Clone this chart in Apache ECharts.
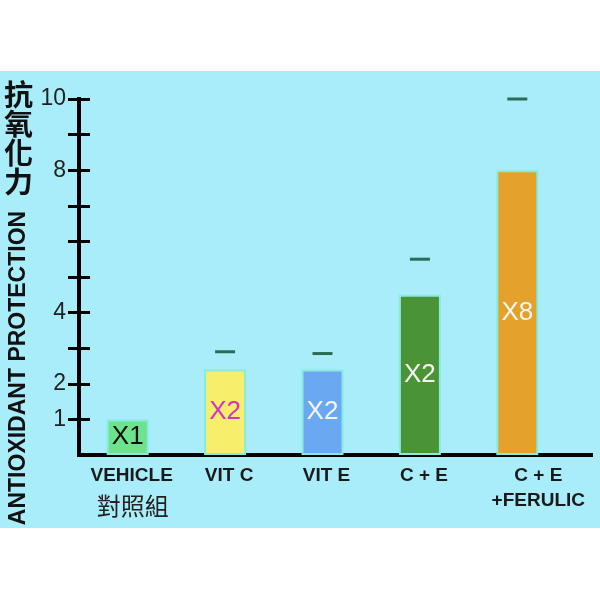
<!DOCTYPE html>
<html>
<head>
<meta charset="utf-8">
<script src="https://cdn.jsdelivr.net/npm/echarts@6/dist/echarts.min.js"></script>
<style>
  html, body { margin: 0; padding: 0; background: #fff; }
  #chart { width: 600px; height: 600px; }
</style>
</head>
<body>
<div id="chart"></div>
<script>
// data
const categories = ['VEHICLE', 'VIT C', 'VIT E', 'C + E', 'C + E\n+FERULIC']
const subLabels = ['對照組', '', '', '', '']
const protection = [1, 2.4, 2.4, 4.5, 8]
const dashValues = ['-', 2.9, 2.85, 5.5, 10]
const multipliers = ['X1', 'X2', 'X2', 'X2', 'X8']
const barColors = ['#6ee38e', '#f7ee6b', '#6aa9f1', '#4a9336', '#e4a22d']
const multiplierColors = ['#111111', '#d333c6', '#f4f6ee', '#f4f6ee', '#f4f6ee']
const yTicks = [1, 2, 3, 4, 5, 6, 7, 8, 9, 10]
const yLabels = [1, 2, 4, 8, 10]

const sans = '"Liberation Sans Narrow", "Liberation Sans", Arial, sans-serif'
const cjk = '"Noto Sans CJK TC", "Noto Sans CJK SC", sans-serif'

const chart = echarts.init(document.getElementById('chart'))

const barData = protection.map((v, i) => ({
  value: v,
  itemStyle: { color: barColors[i] },
  label: { color: multiplierColors[i] }
}))

chart.setOption({
  animation: false,
  backgroundColor: '#aaedfa',
  grid: {
    left: 79,
    right: 34,
    top: 99,
    bottom: 145
  },
  graphic: [
    { type: 'rect', shape: { x: 0, y: 0, width: 600, height: 71 }, style: { fill: '#ffffff' }, silent: true },
    { type: 'rect', shape: { x: 0, y: 528, width: 600, height: 72 }, style: { fill: '#ffffff' }, silent: true },
    // x axis runs on a little past the last band
    { type: 'line', shape: { x1: 566, y1: 455, x2: 593, y2: 455 }, style: { stroke: '#000', lineWidth: 4 }, silent: true },
    {
      type: 'text',
      left: 4,
      top: 80,
      style: {
        text: '抗\n氧\n化\n力',
        font: 'bold 29px ' + cjk,
        lineHeight: 29,
        fill: '#111'
      }
    },
    {
      type: 'text',
      x: 19,
      y: 368,
      rotation: Math.PI / 2,
      style: {
        text: 'ANTIOXIDANT PROTECTION',
        font: 'bold 23px "Liberation Sans", Arial, sans-serif',
        fill: '#111',
        align: 'center',
        verticalAlign: 'middle'
      }
    }
  ],
  xAxis: {
    type: 'category',
    data: categories,
    axisLine: { lineStyle: { color: '#000', width: 4, cap: 'square' } },
    axisTick: { show: false },
    axisLabel: {
      interval: 0,
      margin: 8,
      formatter: (value, index) => {
        const style = index === categories.length - 1 ? 'f' : 'b'
        let txt = value.split('\n').map(s => '{' + style + '|' + s + '}').join('\n')
        if (subLabels[index]) txt += '\n{cn|' + subLabels[index] + '}'
        return txt
      },
      rich: {
        b: { fontFamily: '"Liberation Sans", Arial, sans-serif', fontWeight: 'bold', fontSize: 19, lineHeight: 25, color: '#1a1a1a', padding: [0, 0, 0, 8] },
        f: { fontFamily: '"Liberation Sans", Arial, sans-serif', fontWeight: 'bold', fontSize: 19, lineHeight: 25, color: '#1a1a1a', padding: [0, 0, 0, 42] },
        cn: { fontFamily: cjk, fontSize: 24, lineHeight: 36, color: '#222', padding: [0, 0, 0, 10] }
      }
    }
  },
  yAxis: [{
    type: 'value',
    min: 0,
    max: 10,
    interval: 1,
    axisLine: { show: true, lineStyle: { color: '#000', width: 4, cap: 'square' } },
    axisTick: { show: true, customValues: yTicks, length: 11, lineStyle: { color: '#000', width: 3 } },
    axisLabel: { customValues: yLabels, margin: 13, fontSize: 23, fontFamily: sans, color: '#222' },
    splitLine: { show: false }
  }, {
    // second copy only for the tick halves that point into the plot
    type: 'value',
    position: 'left',
    min: 0,
    max: 10,
    interval: 1,
    axisLine: { show: false },
    axisTick: { show: true, inside: true, customValues: yTicks, length: 11, lineStyle: { color: '#000', width: 3 } },
    axisLabel: { show: false },
    splitLine: { show: false }
  }],
  series: [{
    type: 'bar',
    data: barData,
    barWidth: 42,
    itemStyle: { borderColor: '#86ecdc', borderWidth: 2 },
    label: {
      show: true,
      position: 'inside',
      formatter: p => multipliers[p.dataIndex],
      fontFamily: sans,
      fontSize: 26
    }
  }, {
    type: 'scatter',
    data: dashValues,
    symbol: 'rect',
    symbolSize: [20, 3],
    itemStyle: { color: '#0b4b2e' },
    z: 3
  }]
})
</script>
</body>
</html>
